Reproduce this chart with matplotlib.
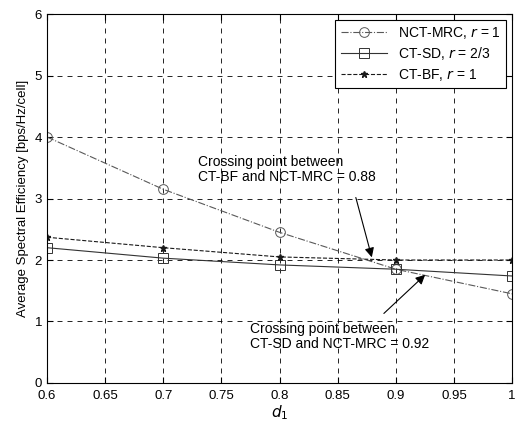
import numpy as np
import matplotlib
matplotlib.use('Agg')
import matplotlib.pyplot as plt

plt.rcParams['font.family'] = ['Liberation Sans', 'DejaVu Sans']

d1 = [0.6, 0.7, 0.8, 0.9, 1.0]
nct_mrc = [4.0, 3.15, 2.45, 1.85, 1.45]
ct_sd = [2.2, 2.03, 1.92, 1.85, 1.74]
ct_bf = [2.37, 2.2, 2.05, 2.0, 2.0]

xticks = [0.6, 0.65, 0.7, 0.75, 0.8, 0.85, 0.9, 0.95, 1]
yticks = [0, 1, 2, 3, 4, 5, 6]

fig = plt.figure(figsize=(5.19, 4.26), dpi=100)
ax = fig.add_axes([0.0906, 0.101, 0.896, 0.866])

ax.plot(d1, nct_mrc, color='0.35', ls='-.', lw=0.8, marker='o', ms=7,
        mfc='none', mec='0.35', mew=0.7, label='NCT-MRC, $r$ = 1')
ax.plot(d1, ct_sd, color='0.2', ls='-', lw=0.8, marker='s', ms=7,
        mfc='none', mec='0.2', mew=0.7, label='CT-SD, $r$ = 2/3')
ax.plot(d1, ct_bf, color='0.1', ls='--', lw=0.8, marker='*', ms=5,
        mfc='0.1', mec='0.1', label='CT-BF, $r$ = 1')

ax.set_xlim(0.6, 1)
ax.set_ylim(0, 6)
ax.set_xticks(xticks)
ax.set_xticklabels([str(t) for t in xticks])
ax.set_yticks(yticks)
ax.tick_params(direction='in', top=True, right=True, labelsize=9.5, length=4)
ax.tick_params(axis='x', pad=5)
ax.grid(True, ls=(0, (6, 6)), color='k', lw=0.6)
for s in ax.spines.values():
    s.set_linewidth(0.8)

ax.set_xlabel('$d_1$', fontsize=11, labelpad=1)
ax.set_ylabel('Average Spectral Efficiency [bps/Hz/cell]', fontsize=9.5)

ax.annotate('Crossing point between\nCT-BF and NCT-MRC = 0.88',
            xy=(0.88, 2.0), xytext=(0.730, 3.47), fontsize=10,
            ha='left', va='center', linespacing=1.1)
ax.annotate('', xy=(0.88, 2.0), xytext=(0.865, 3.06),
            arrowprops=dict(arrowstyle='-|>', color='k', lw=0.8,
                            mutation_scale=14))
ax.annotate('Crossing point between\nCT-SD and NCT-MRC = 0.92',
            xy=(0.927, 1.79), xytext=(0.775, 0.76), fontsize=10,
            ha='left', va='center', linespacing=1.1)
ax.annotate('', xy=(0.927, 1.79), xytext=(0.888, 1.1),
            arrowprops=dict(arrowstyle='-|>', color='k', lw=0.8,
                            mutation_scale=14))

leg = ax.legend(loc='upper right', fontsize=10, fancybox=False,
                edgecolor='k', framealpha=1, handlelength=3.3,
                borderaxespad=0.4, labelspacing=0.3, borderpad=0.4)
leg.get_frame().set_linewidth(0.8)

fig.savefig('out.png', dpi=100)
